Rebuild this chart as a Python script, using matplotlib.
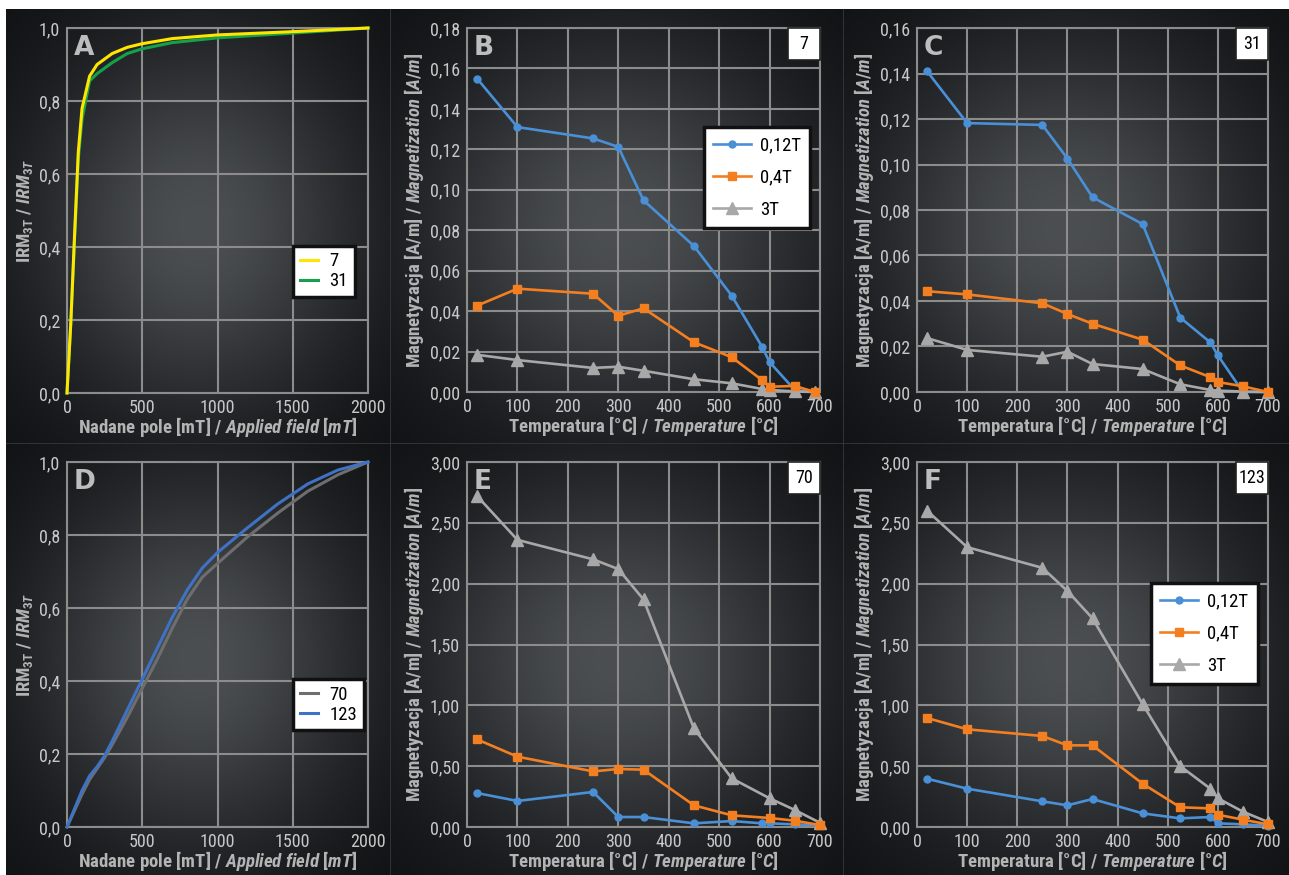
import numpy as np
import matplotlib
matplotlib.use('Agg')
import matplotlib.pyplot as plt
from matplotlib import font_manager as fm
from matplotlib.patches import Rectangle
from matplotlib.ticker import FuncFormatter, MultipleLocator


def pick(cands):
    for c in cands:
        try:
            fm.findfont(fm.FontProperties(family=c), fallback_to_default=False)
            return c
        except Exception:
            pass
    return 'DejaVu Sans'


NARROW = pick(['Liberation Sans Narrow', 'Roboto Condensed', 'DejaVu Sans Condensed', 'Liberation Sans'])
plt.rcParams['font.family'] = [NARROW, 'DejaVu Sans']
plt.rcParams['mathtext.fontset'] = 'custom'
plt.rcParams['mathtext.rm'] = NARROW + ':bold'
plt.rcParams['mathtext.bf'] = NARROW + ':bold'
plt.rcParams['mathtext.it'] = NARROW + ':italic:bold'

# ---------------- data ----------------
field_A = [0, 25, 50, 75, 100, 150, 200, 300, 400, 500, 700, 1000, 1500, 2000]
irm_7 = [0, 0.19, 0.43, 0.66, 0.78, 0.868, 0.90, 0.93, 0.947, 0.957, 0.971, 0.981, 0.990, 1.0]
irm_31 = [0, 0.19, 0.42, 0.64, 0.75, 0.855, 0.875, 0.905, 0.930, 0.943, 0.960, 0.973, 0.986, 1.0]

field_D = [0, 50, 100, 150, 200, 250, 300, 400, 500, 600, 700, 800, 900, 1000, 1200, 1400, 1600, 1800, 2000]
irm_123 = [0, 0.05, 0.10, 0.14, 0.165, 0.195, 0.235, 0.32, 0.405, 0.49, 0.575, 0.65, 0.71, 0.752,
           0.82, 0.885, 0.94, 0.978, 1.0]
irm_70 = [0, 0.045, 0.09, 0.13, 0.16, 0.19, 0.225, 0.30, 0.38, 0.46, 0.545, 0.625, 0.685, 0.722,
          0.795, 0.86, 0.92, 0.965, 1.0]

temp_B = [20, 100, 250, 300, 350, 450, 525, 585, 600, 650, 690]
B_012T = [0.155, 0.131, 0.1254, 0.1212, 0.0948, 0.0722, 0.0476, 0.0224, 0.0148, 0.001, 0.0]
B_04T = [0.0427, 0.0511, 0.0486, 0.0377, 0.0414, 0.0246, 0.0172, 0.0059, 0.0026, 0.003, 0.0]
B_3T = [0.0184, 0.0158, 0.0119, 0.0125, 0.0105, 0.0063, 0.0043, 0.0015, 0.0010, 0.0003, 0.0]

temp_C = [20, 100, 250, 300, 350, 450, 525, 585, 600, 650, 700]
C_012T = [0.141, 0.1182, 0.1174, 0.1026, 0.0856, 0.0738, 0.0327, 0.0218, 0.0161, 0.0, 0.0]
C_04T = [0.0443, 0.0429, 0.0390, 0.0343, 0.0300, 0.0230, 0.0117, 0.0065, 0.0044, 0.0025, 0.0]
C_3T = [0.0237, 0.0185, 0.0155, 0.0177, 0.0123, 0.0101, 0.0034, 0.0009, 0.0006, 0.0002, 0.0]

temp_E = [20, 100, 250, 300, 350, 450, 525, 585, 600, 650, 700]
E_012T = [0.279, 0.214, 0.288, 0.082, 0.082, 0.030, 0.049, 0.030, 0.030, 0.022, 0.014]
E_04T = [0.72, 0.578, 0.457, 0.477, 0.471, 0.178, 0.096, None, 0.074, 0.052, 0.016]
E_3T = [2.72, 2.36, 2.20, 2.12, 1.87, 0.81, 0.40, None, 0.236, 0.14, 0.035]

temp_F = [20, 100, 250, 300, 350, 450, 525, 585, 600, 650, 700]
F_012T = [0.397, 0.315, 0.211, 0.178, 0.230, 0.112, 0.071, 0.082, 0.030, 0.022, 0.010]
F_04T = [0.896, 0.803, 0.748, 0.671, 0.671, 0.356, 0.162, 0.153, 0.101, 0.060, 0.022]
F_3T = [2.60, 2.30, 2.13, 1.94, 1.715, 1.01, 0.50, 0.315, 0.236, 0.126, 0.041]

series_names = ['0,12T', '0,4T', '3T']
samples = ['7', '31', '70', '123']

# ---------------- style ----------------
W, H = 1289, 875
fig = plt.figure(figsize=(W / 100, H / 100), dpi=100, facecolor='white')

img = np.ones((H, W, 3))
cols = [(6, 390), (390, 843), (843, W)]
rows = [(9, 443), (443, H)]
c_center = np.array([76, 79, 82]) / 255
c_edge = np.array([13, 15, 17]) / 255
yy, xx = np.mgrid[0:H, 0:W]
for (x0, x1) in cols:
    for (y0, y1) in rows:
        cx, cy = (x0 + x1) / 2, (y0 + y1) / 2
        hw, hh = (x1 - x0) / 2, (y1 - y0) / 2
        sub = (slice(y0, y1), slice(x0, x1))
        d2 = ((xx[sub] - cx) / hw) ** 2 + ((yy[sub] - cy) / hh) ** 2
        t = np.exp(-d2 / 0.75)
        img[sub] = c_edge + (c_center - c_edge) * t[..., None]
sep = np.array([48, 50, 52]) / 255
img[9:, 390] = sep
img[9:, 843] = sep
img[443, 6:] = sep
fig.figimage(img, xo=0, yo=0, origin='upper', zorder=-10)

GRID = '#8c8c8c'
TICK = '#c8c8c8'
LABEL = '#b4b4b4'
BLUE = '#4a90d6'
ORANGE = '#f47f20'
GRAY = '#a8a8a8'


def px_axes(l, r, t, b):
    return fig.add_axes([l / W, 1 - b / H, (r - l) / W, (b - t) / H])


def comma(fmt):
    return FuncFormatter(lambda v, p: (fmt % v).replace('.', ','))


def style(ax, xmax, xstep, ymax, ystep, yfmt, letter, xlabel, ylabel):
    ax.set_facecolor('none')
    ax.set_xlim(0, xmax)
    ax.set_ylim(0, ymax)
    ax.xaxis.set_major_locator(MultipleLocator(xstep))
    ax.yaxis.set_major_locator(MultipleLocator(ystep))
    ax.yaxis.set_major_formatter(comma(yfmt))
    ax.xaxis.set_major_formatter(FuncFormatter(lambda v, p: '%d' % round(v)))
    ax.grid(True, color=GRID, lw=1.5, zorder=1)
    ax.set_axisbelow(True)
    for s in ax.spines.values():
        s.set_color(GRID)
        s.set_linewidth(1.5)
    ax.tick_params(axis='x', length=0, colors=TICK, labelsize=13, pad=4)
    ax.tick_params(axis='y', length=0, colors=TICK, labelsize=13, pad=5)
    ax.set_xlabel(xlabel, color=LABEL, fontsize=13.5, labelpad=-1)
    ax.set_ylabel(ylabel, color=LABEL, fontsize=13.5, labelpad=3)
    ax.annotate(letter, xy=(0, 1), xycoords='axes fraction', xytext=(5, -5),
                textcoords='offset points', ha='left', va='top', fontsize=19,
                fontweight='heavy', family='DejaVu Sans', color='#bdbdbd', zorder=6)


def sample_box(ax, name):
    bb = ax.get_position()
    wf = 32 / (bb.width * W)
    hf = 32 / (bb.height * H)
    ax.add_patch(Rectangle((1 - wf, 1 - hf), wf, hf, transform=ax.transAxes,
                           facecolor='white', edgecolor='#222222', lw=1.2, zorder=7, clip_on=False))
    ax.text(1 - wf / 2, 1 - hf / 2, name, transform=ax.transAxes, ha='center', va='center',
            fontsize=13, color='black', zorder=8)


def plot_series(ax, x, y, **kw):
    pts = [(a, b) for a, b in zip(x, y) if b is not None]
    xs = [p[0] for p in pts]
    ys = [p[1] for p in pts]
    return ax.plot(xs, ys, clip_on=False, **kw)[0]


XL_T = r'$\mathrm{Temperatura\ [°C]\ /\ }\mathit{Temperature\ [°C]}$'
YL_M = r'$\mathrm{Magnetyzacja\ [A/m]\ /\ }\mathit{Magnetization\ [A/m]}$'
XL_F = r'$\mathrm{Nadane\ pole\ [mT]\ /\ }\mathit{Applied\ field\ [mT]}$'
YL_I = r'$\mathrm{IRM_{3T}\ /\ }\mathit{IRM_{3T}}$'


def legend_frame(leg):
    fr = leg.get_frame()
    fr.set_facecolor('white')
    fr.set_edgecolor('#111111')
    fr.set_linewidth(2.5)
    fr.set_alpha(1)
    for t in leg.get_texts():
        t.set_color('black')


def thermal(ax, temps, s012, s04, s3, ymax, ystep, letter, name, legend_at=None):
    style(ax, 700, 100, ymax, ystep, '%.2f', letter, XL_T, YL_M)
    h1 = plot_series(ax, temps, s012, color=BLUE, lw=1.9, marker='o', ms=5, zorder=3)
    h3 = plot_series(ax, temps, s3, color=GRAY, lw=1.9, marker='^', ms=8, zorder=4)
    h2 = plot_series(ax, temps, s04, color=ORANGE, lw=1.9, marker='s', ms=6, zorder=5)
    sample_box(ax, name)
    if legend_at is not None:
        leg = ax.legend([h1, h2, h3], series_names, loc='upper left', bbox_to_anchor=legend_at,
                        borderaxespad=0, fontsize=13.5, frameon=True, fancybox=False,
                        handlelength=2.0, labelspacing=0.75, borderpad=0.5, handletextpad=0.5)
        legend_frame(leg)
        leg.set_zorder(9)


# ---- A ----
axA = px_axes(67, 368, 28, 393)
style(axA, 2000, 500, 1.0, 0.2, '%.1f', 'A', XL_F, YL_I)
ha1 = axA.plot(field_A, irm_7, color='#ffe600', lw=2.2, zorder=4, clip_on=False)[0]
ha2 = axA.plot(field_A, irm_31, color='#17a04a', lw=2.2, zorder=3, clip_on=False)[0]
leg = axA.legend([ha1, ha2], samples[:2], loc='upper left', bbox_to_anchor=(0.751, 0.403),
                 borderaxespad=0, fontsize=13.5, fancybox=False, handlelength=1.0,
                 labelspacing=0.1, borderpad=0.35, handletextpad=0.6)
legend_frame(leg)

# ---- B ----
axB = px_axes(467, 820, 28, 392)
thermal(axB, temp_B, B_012T, B_04T, B_3T, 0.18, 0.02, 'B', samples[0], legend_at=(0.671, 0.728))

# ---- C ----
axC = px_axes(917, 1268, 28, 392)
thermal(axC, temp_C, C_012T, C_04T, C_3T, 0.16, 0.02, 'C', samples[1])

# ---- D ----
axD = px_axes(67, 368, 462, 827)
style(axD, 2000, 500, 1.0, 0.2, '%.1f', 'D', XL_F, YL_I)
hd1 = axD.plot(field_D, irm_70, color='#6e6e6e', lw=2.2, zorder=3, clip_on=False)[0]
hd2 = axD.plot(field_D, irm_123, color='#3f72c4', lw=2.2, zorder=4, clip_on=False)[0]
leg = axD.legend([hd1, hd2], samples[2:], loc='upper left', bbox_to_anchor=(0.751, 0.405),
                 borderaxespad=0, fontsize=13.5, fancybox=False, handlelength=1.0,
                 labelspacing=0.1, borderpad=0.35, handletextpad=0.6)
legend_frame(leg)

# ---- E ----
axE = px_axes(467, 820, 462, 827)
thermal(axE, temp_E, E_012T, E_04T, E_3T, 3.0, 0.5, 'E', samples[2])

# ---- F ----
axF = px_axes(917, 1268, 462, 827)
thermal(axF, temp_F, F_012T, F_04T, F_3T, 3.0, 0.5, 'F', samples[3], legend_at=(0.667, 0.668))

fig.savefig('out.png', dpi=100, facecolor='white')
